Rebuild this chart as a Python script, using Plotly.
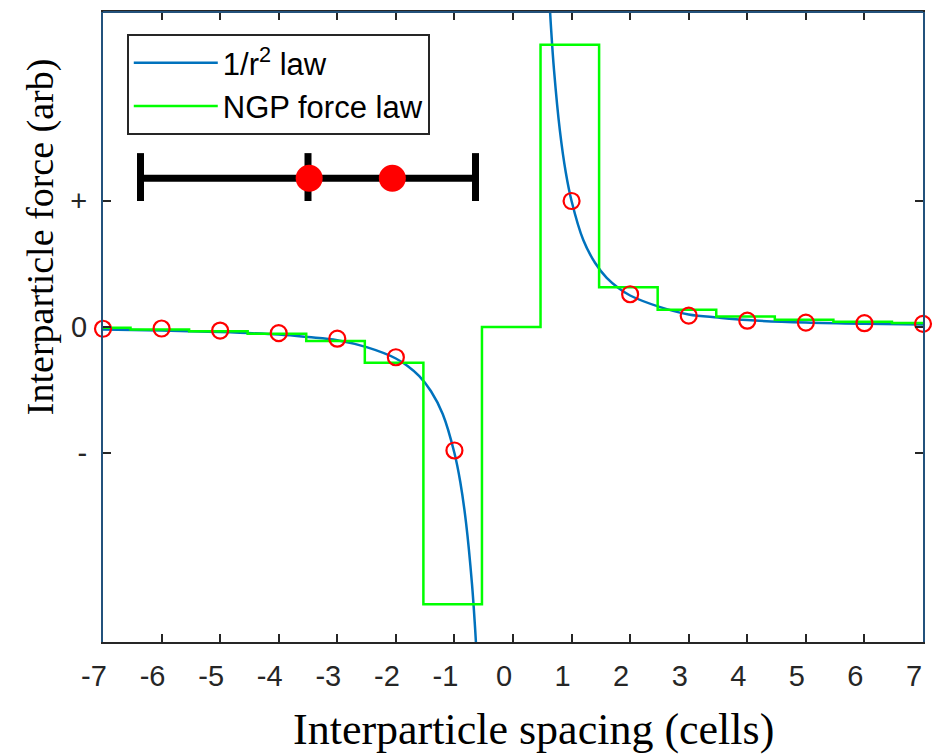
import plotly.graph_objects as go

# ---------------- data ----------------
# sample points (red circles)
sample_x = [-7, -6, -5, -4, -3, -2, -1, 1, 2, 3, 4, 5, 6, 7]
sample_y = [-0.014, -0.012, -0.028, -0.049, -0.093, -0.24, -0.98,
            1.0, 0.26, 0.09, 0.05, 0.035, 0.03, 0.025]

# 1/r^2 law curve
curve_neg_x = [-7, -6, -5, -4, -3.5, -3, -2.5, -2, -1.8, -1.6, -1.4, -1.2, -1.0, -0.9, -0.8, -0.7, -0.65, -0.6]
curve_neg_y = [-0.02, -0.028, -0.04, -0.06, -0.08, -0.105, -0.16, -0.25, -0.31, -0.39, -0.51, -0.69,
               -1.0, -1.23, -1.56, -2.04, -2.37, -2.78]
curve_pos_x = [0.6, 0.65, 0.7, 0.8, 0.9, 1.0, 1.2, 1.4, 1.6, 1.8, 2.0, 2.5, 3, 3.5, 4, 5, 6, 7]
curve_pos_y = [2.78, 2.37, 2.04, 1.56, 1.23, 1.0, 0.69, 0.51, 0.39, 0.31, 0.25, 0.16, 0.10,
               0.075, 0.055, 0.035, 0.025, 0.02]

# NGP force law (step function: left edge of each step and its level)
ngp_x = [-7, -6.53, -5.53, -4.53, -3.53, -2.53, -1.53, -0.53, 0.47, 1.47, 2.47, 3.47, 4.47, 5.47, 6.47, 7]
ngp_y = [-0.006, -0.02, -0.033, -0.054, -0.112, -0.283, -2.20, 0.0, 2.24, 0.315, 0.136, 0.083,
         0.057, 0.041, 0.032, 0.032]

# cell diagram (black bar with cell boundaries and two particles)
bar_x = [-6.36, -0.64]
bar_level = 1.18
cap_x = [-6.36, -3.5, -0.64]
cap_lo, cap_hi = 1.0, 1.38
particle_x = [-3.48, -2.06]

x_ticks = [-7, -6, -5, -4, -3, -2, -1, 0, 1, 2, 3, 4, 5, 6, 7]
x_ticktext = ['-7', '-6', '-5', '-4', '-3', '-2', '-1', '0', '1', '2', '3', '4', '5', '6', '7']
y_tickvals = [-1, 0, 1]
y_ticktext = ['-', '0', '+']

BLUE = '#0072BD'
GREEN = '#00FF00'
RED = '#FF0000'
DARK = '#262626'
FRAME_BLUE = '#23527c'
SANS = 'Arial, Liberation Sans, sans-serif'
SERIF = 'Times New Roman, Liberation Serif, serif'

fig = go.Figure()

fig.add_trace(go.Scatter(
    x=curve_neg_x + [None] + curve_pos_x,
    y=curve_neg_y + [None] + curve_pos_y,
    mode='lines', line=dict(color=BLUE, width=2.5, shape='spline'),
    name='1/r<sup>2</sup> law', connectgaps=False))

fig.add_trace(go.Scatter(
    x=ngp_x, y=ngp_y, mode='lines',
    line=dict(color=GREEN, width=2.5, shape='hv'),
    name='NGP force law'))

fig.add_trace(go.Scatter(
    x=sample_x, y=sample_y, mode='markers', showlegend=False,
    marker=dict(symbol='circle-open', size=16, color=RED, line=dict(width=2.2, color=RED)),
    cliponaxis=False))

# cell diagram
cx, cy = [], []
for c in cap_x:
    cx += [c, c, None]
    cy += [cap_lo, cap_hi, None]
cx += bar_x
cy += [bar_level, bar_level]
fig.add_trace(go.Scatter(x=cx, y=cy, mode='lines', showlegend=False,
                         line=dict(color='black', width=7)))
fig.add_trace(go.Scatter(x=particle_x, y=[bar_level] * len(particle_x), mode='markers',
                         showlegend=False, marker=dict(color=RED, size=27)))

fig.update_layout(
    width=938, height=755,
    margin=dict(l=103, r=15, t=10, b=113),
    paper_bgcolor='white', plot_bgcolor='white',
    showlegend=True,
    legend=dict(x=0.029, y=0.965, xanchor='left', yanchor='top',
                bgcolor='white', bordercolor=DARK, borderwidth=2,
                font=dict(family=SANS, size=31, color='black'),
                itemwidth=84, tracegroupgap=0),
    xaxis=dict(range=[-7, 7], tickvals=x_ticks, ticktext=x_ticktext, ticks='inside', ticklen=8,
               tickwidth=2, tickcolor=DARK, showline=True, linecolor=DARK, linewidth=2,
               mirror='ticks', showgrid=False, zeroline=False,
               tickfont=dict(family=SANS, size=29, color=DARK),
               ticklabelstandoff=7, ticklabelshift=-9),
    yaxis=dict(range=[-2.5, 2.5], tickvals=y_tickvals, ticktext=y_ticktext, ticks='inside',
               ticklen=8, tickwidth=2, tickcolor=DARK, showline=True, linecolor=FRAME_BLUE,
               linewidth=2, mirror='ticks', showgrid=False, zeroline=False,
               tickfont=dict(family=SANS, size=29, color=DARK),
               ticklabelstandoff=8),
    annotations=[
        dict(text='Interparticle spacing (cells)', xref='paper', yref='paper',
             x=0.5256, y=-0.139, xanchor='center', yanchor='middle', showarrow=False,
             font=dict(family=SERIF, size=44, color='black')),
        dict(text='Interparticle force (arb)', xref='paper', yref='paper',
             x=-0.077, y=0.644, xanchor='center', yanchor='middle', showarrow=False,
             textangle=-90, font=dict(family=SERIF, size=38, color='black')),
    ],
    shapes=[dict(type='line', xref='paper', yref='paper', x0=0, x1=1, y0=1, y1=1,
                 line=dict(color=FRAME_BLUE, width=2), layer='above')],
)

fig.write_html('out.html', config={'displayModeBar': False},
               post_script="document.body.style.margin='0';document.body.style.padding='0';")
